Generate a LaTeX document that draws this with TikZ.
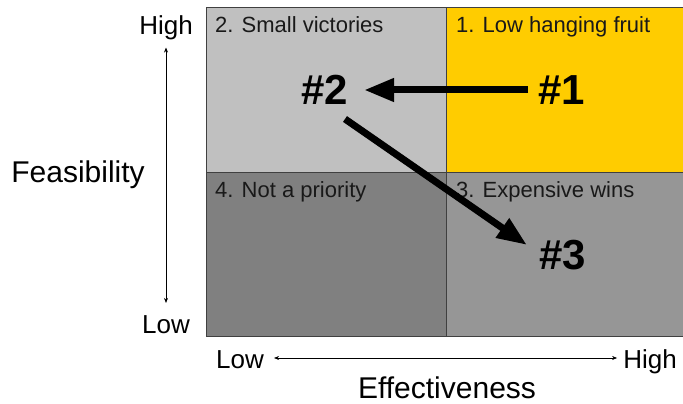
\documentclass[tikz,border=0pt]{standalone}
\usepackage{fontspec}
\setmainfont{Liberation Sans}
\usetikzlibrary{arrows.meta}
\definecolor{qlight}{HTML}{C0C0C0}
\definecolor{qgold}{HTML}{FFCC00}
\definecolor{qdark}{HTML}{808080}
\definecolor{qmid}{HTML}{969696}
\definecolor{qline}{HTML}{404040}
\tikzset{
  quad/.style={draw=qline, line width=0.8pt},
  qlabel/.style={anchor=base west, inner sep=0pt, font=\fontsize{22}{26}\selectfont, text=black!90},
  num/.style={inner sep=0pt, font=\fontsize{42}{48}\selectfont\bfseries},
  axlabel/.style={anchor=base, inner sep=0pt, font=\fontsize{26}{30}\selectfont},
  axtitle/.style={anchor=base, inner sep=0pt, font=\fontsize{30}{34}\selectfont},
  bigarrow/.style={line width=7pt, -{Triangle[length=30pt,width=22pt]}},
  axarrow/.style={line width=0.6pt, {Stealth[length=5pt,width=4pt]}-{Stealth[length=5pt,width=4pt]}}
}
\begin{document}
\begin{tikzpicture}[x=1pt,y=-1pt]
\useasboundingbox (0,0) rectangle (683,404);
\fill[white] (0,0) rectangle (683,404);
% quadrants
\filldraw[quad, fill=qlight] (206.5,7) rectangle (446.5,172);
\filldraw[quad, fill=qgold] (446.5,7) rectangle (684,172);
\filldraw[quad, fill=qdark] (206.5,172) rectangle (446.5,336);
\filldraw[quad, fill=qmid] (446.5,172) rectangle (684,336);
% quadrant labels
\node[qlabel] (q2) at (215,33) {2. Small victories};
\node[qlabel] (q1) at (456,33) {1. Low hanging fruit};
\node[qlabel] (q4) at (215,197) {4. Not a priority};
\node[qlabel] (q3) at (456,197) {3. Expensive wins};
% numbers
\node[num] (n2) at (325,90) {\#2};
\node[num] (n1) at (562,90) {\#1};
\node[num] (n3) at (563,255) {\#3};
% big arrows
\draw[bigarrow] ([xshift=-34pt]n1.center) -- ([xshift=39pt]n2.center);
\draw[bigarrow] ([shift={(20pt,-29pt)}]n2.center) -- ([shift={(-36pt,10pt)}]n3.center);
% vertical axis
\node[axlabel] (vhigh) at (166,35) {High};
\node[axlabel] (vlow) at (166,333) {Low};
\node[axtitle] (feas) at (78,182) {Feasibility};
\draw[axarrow] ([yshift=-7pt]vhigh.south) -- ([yshift=12pt]vlow.north);
% horizontal axis
\node[axlabel] (hlow) at (240,368) {Low};
\node[axlabel] (hhigh) at (650,368) {High};
\node[axtitle] (eff) at (447,398) {Effectiveness};
\draw[axarrow] ([xshift=10pt]hlow.east |- 0,358) -- ([xshift=-6pt]hhigh.west |- 0,358);
\end{tikzpicture}
\end{document}
